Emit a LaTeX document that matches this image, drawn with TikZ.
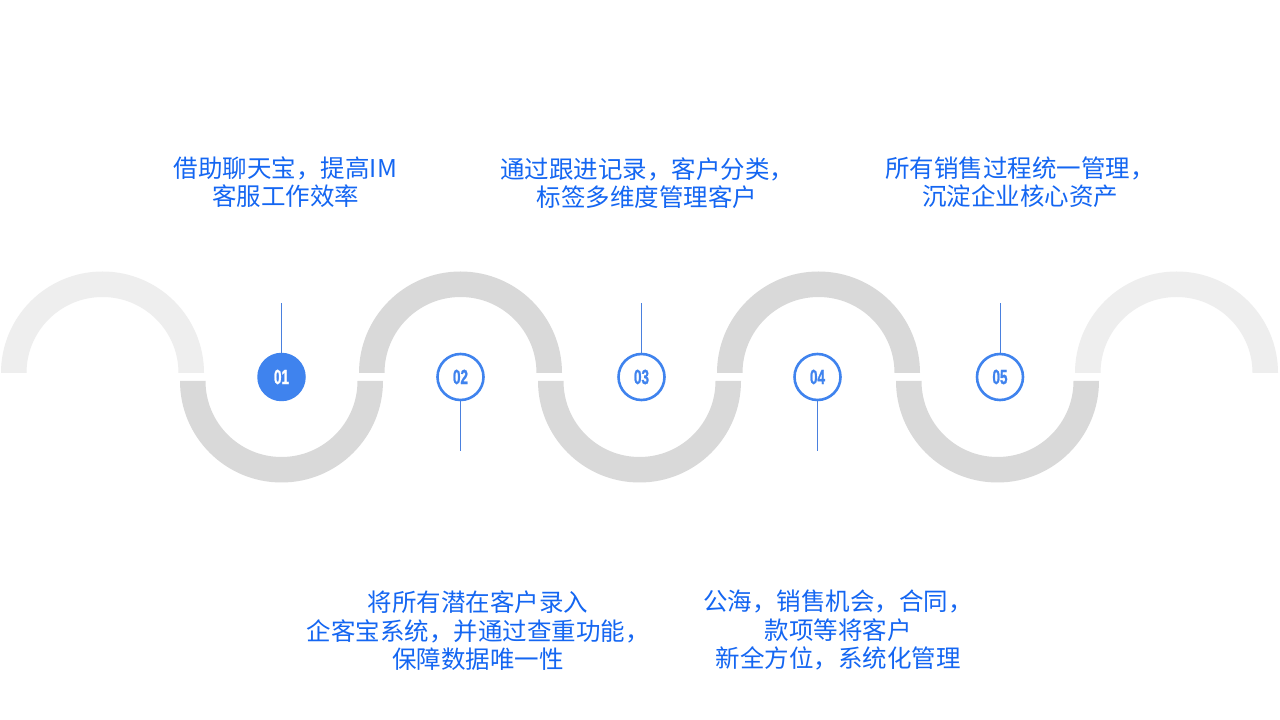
\documentclass[tikz,border=0pt]{standalone}
\usepackage{fontspec}
\newfontfamily\cjk{Noto Sans CJK SC}
\newfontfamily\numfont{Liberation Sans Bold}[FakeBold=1.6]
\definecolor{ringgray}{HTML}{D9D9D9}
\definecolor{ringfade}{HTML}{EEEEEE}
\definecolor{stepblue}{HTML}{3F83EE}
\definecolor{txtblue}{HTML}{1466F2}
\definecolor{lineblue}{HTML}{4A80DE}
\tikzset{
  x=1pt, y=1pt,
  desc/.style={inner sep=0pt, align=center, text=txtblue, font=\cjk\fontsize{24.5}{28.5}\selectfont},
  numfill/.style={circle, minimum size=48.5pt, inner sep=0pt, fill=stepblue, text=white},
  numring/.style={circle, minimum size=46pt, inner sep=0pt, draw=stepblue, line width=2.6pt, fill=white, text=stepblue},
  pin/.style={draw=lineblue, line width=0.9pt},
}
\newcommand{\upring}[2]{% center x, color
  \fill[#2] (#1-101.5,347) arc[start angle=180, end angle=0, radius=101.5]
    -- (#1+76,347) arc[start angle=0, end angle=180, radius=76] -- cycle;}
\newcommand{\downring}[2]{%
  \fill[#2] (#1-101.5,339) arc[start angle=180, end angle=360, radius=101.5]
    -- (#1+76,339) arc[start angle=360, end angle=180, radius=76] -- cycle;}
\newcommand{\numtxt}[1]{\scalebox{0.66}[1]{\numfont\fontsize{20.5}{20.5}\selectfont #1}}
\begin{document}
\begin{tikzpicture}
\useasboundingbox (0,0) rectangle (1280,720);
\fill[white] (0,0) rectangle (1280,720);
% wave
\upring{102.5}{ringfade}
\downring{281.5}{ringgray}
\upring{460.5}{ringgray}
\downring{639.5}{ringgray}
\upring{818.5}{ringgray}
\downring{997.5}{ringgray}
\upring{1176.5}{ringfade}
% step circles
\node[numfill] (s1) at (281.5,343) {\numtxt{01}};
\node[numring] (s2) at (460.5,343) {\numtxt{02}};
\node[numring] (s3) at (641.5,343) {\numtxt{03}};
\node[numring] (s4) at (817.5,343) {\numtxt{04}};
\node[numring] (s5) at (1000,343) {\numtxt{05}};
% pin ends
\coordinate (p1) at (281.5,417);
\coordinate (p2) at (460.5,269);
\coordinate (p3) at (641.5,417);
\coordinate (p4) at (817.5,269);
\coordinate (p5) at (1000,417);
\draw[pin] (s1.north) -- (p1);
\draw[pin] (s2.south) -- (p2);
\draw[pin] (s3.north) -- (p3);
\draw[pin] (s4.south) -- (p4);
\draw[pin] (s5.north) -- (p5);
% descriptions
\node[desc] (t1) at (285.5,538) {借助聊天宝，提高IM\\客服工作效率};
\node[desc] (t3) at (647,537) {通过跟进记录，客户分类，\\标签多维度管理客户};
\node[desc] (t5) at (1020,538) {所有销售过程统一管理，\\沉淀企业核心资产};
\node[desc] (t2) at (478,89) {将所有潜在客户录入\\企客宝系统，并通过查重功能，\\保障数据唯一性};
\node[desc] (t4) at (838,90) {公海，销售机会，合同，\\款项等将客户\\新全方位，系统化管理};
\end{tikzpicture}
\end{document}
